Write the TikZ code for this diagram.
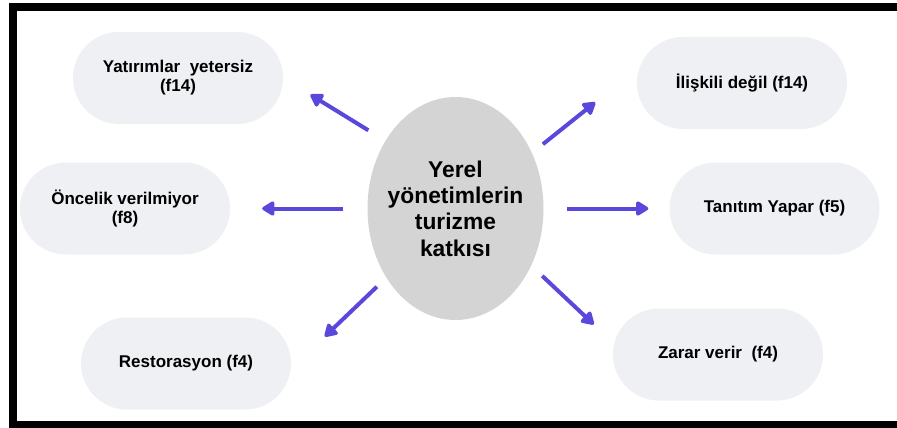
\documentclass[tikz,border=0pt]{standalone}
\usepackage{fontspec}
\setmainfont{Liberation Sans}
\usetikzlibrary{shapes.geometric,shapes.misc,arrows.meta}
\definecolor{pillgray}{RGB}{238,240,243}
\definecolor{hubgray}{RGB}{212,212,212}
\definecolor{arrowblue}{RGB}{90,72,220}

\begin{document}
\begin{tikzpicture}[x=1pt,y=1pt,yscale=-1,xscale=1,
	pill/.style={rounded rectangle, fill=pillgray, draw=none, minimum width=210pt, minimum height=92pt, inner sep=0pt, align=center, font=\fontsize{17}{19}\selectfont\bfseries},
	hub/.style={ellipse, fill=hubgray, draw=none, minimum width=176pt, minimum height=223pt, inner sep=0pt},
	hubtext/.style={align=center, inner sep=0pt, font=\fontsize{22.8}{26.3}\selectfont\bfseries},
	flow/.style={draw=arrowblue, line width=4pt, -{Triangle[length=14pt,width=16pt,round,fill=arrowblue]}}]
				\useasboundingbox (0,0) rectangle (897,428);
				
				%Shape: Frame 
				\fill [black] (9,3) rectangle (897,428);
				\fill [white] (17,11) rectangle (897,421);
				
				%Shape: Ellipse 
				\node [hub, label={[hubtext]center:Yerel\\yönetimlerin\\turizme\\katkısı}] (cen) at (455.5,208.5) {};
				
				%Shape: Pills 
				\node [pill] (yat) at (178,78) {Yatırımlar~ yetersiz\\(f14)};
				\node [pill] (onc) at (125,208.5) {Öncelik verilmiyor\\(f8)};
				\node [pill] (res) at (186,363.5) {Restorasyon (f4)};
				\node [pill] (ili) at (742,83) {İlişkili değil (f14)};
				\node [pill] (tan) at (774.5,208.5) {Tanıtım Yapar (f5)};
				\node [pill] (zar) at (718,354.5) {Zarar verir~ (f4)};
				
				%Straight Lines: arrows 
				\draw [flow, shorten <=20pt, shorten >=32pt] (cen.136.5) -- (yat.east);
				\draw [flow, shorten <=24.5pt, shorten >=32pt] (cen.180) -- (onc.east);
				\draw [flow, shorten <=13pt, shorten >=47pt] (cen.225.3) -- (res.-3);
				\draw [flow, shorten <=14pt, shorten >=57pt] (cen.36) -- (ili.171.6);
				\draw [flow, shorten <=23.5pt, shorten >=21pt] (cen.0) -- (tan.180);
				\draw [flow, shorten <=15pt, shorten >=28pt] (cen.-37) -- (zar.174);
				
\end{tikzpicture}
\end{document}
